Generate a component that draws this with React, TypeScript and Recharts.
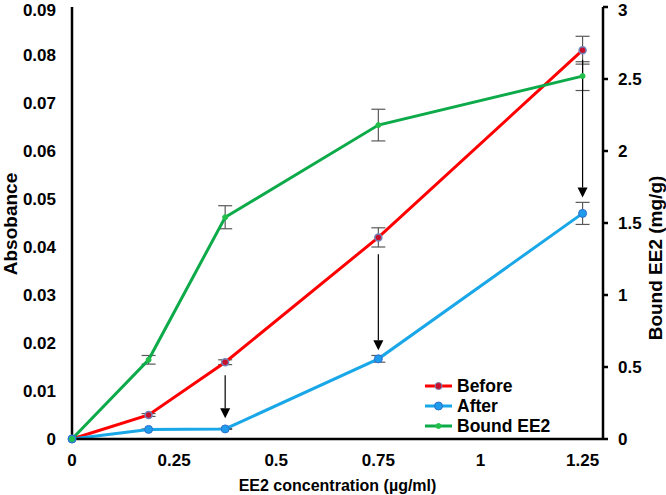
import * as React from "react";
import {
  ComposedChart,
  Line,
  XAxis,
  YAxis,
  ErrorBar,
  ReferenceLine,
} from "recharts";

// EE2 concentration (µg/ml)
const concentrations = [0, 0.1875, 0.375, 0.75, 1.25];
// absorbance before / after binding
const beforeValues = [0, 0.005, 0.016, 0.042, 0.081];
const beforeErrors = [0, 0.0003, 0.0005, 0.002, 0.0029];
const afterValues = [0, 0.002, 0.0021, 0.0167, 0.047];
const afterErrors = [0, 0.0001, 0.0001, 0.0007, 0.0023];
// bound EE2 (mg/g), right axis
const boundValues = [0, 0.55, 1.54, 2.18, 2.52];
const boundErrors = [0, 0.03, 0.08, 0.11, 0.1];

const xTicks = [0, 0.25, 0.5, 0.75, 1, 1.25];
const leftTicks = [0, 0.01, 0.02, 0.03, 0.04, 0.05, 0.06, 0.07, 0.08, 0.09];
const rightTicks = [0, 0.5, 1, 1.5, 2, 2.5, 3];

// arrows from "before" down to "after"
const arrowX = [0.375, 0.75, 1.25];
const arrowFrom = [0.0133, 0.0385, 0.079];
const arrowTo = [0.0043, 0.0185, 0.0503];

const data = concentrations.map((x, i) => ({
  x,
  before: beforeValues[i],
  beforeErr: beforeErrors[i],
  after: afterValues[i],
  afterErr: afterErrors[i],
  bound: boundValues[i],
  boundErr: boundErrors[i],
}));

const FONT = "'Liberation Sans', Arial, sans-serif";
const tickStyle = { fontSize: 17, fontWeight: 700, fill: "#000", fontFamily: FONT };
const xTitleStyle = { ...tickStyle, fontSize: 16 };
const yTitleStyle = { ...tickStyle, fontSize: 19 };

const series = [
  { name: "Before", color: "#FF0000", dotFill: "#C8102E", dotStroke: "#6F86B8", r: 3.5 },
  { name: "After", color: "#1AA7E8", dotFill: "#1E9BEA", dotStroke: "#2F6FD0", r: 4 },
  { name: "Bound EE2", color: "#0DAA4A", dotFill: "#22C04A", dotStroke: "#22C04A", r: 2.5 },
];

function ArrowShape(props: any) {
  const { x1, y1, x2, y2 } = props;
  const head = 10;
  return (
    <g>
      <line x1={x1} y1={y1} x2={x2} y2={y2 - head} stroke="#000" strokeWidth={1.2} />
      <polygon
        points={`${x2 - 5},${y2 - head} ${x2 + 5},${y2 - head} ${x2},${y2}`}
        fill="#000"
      />
    </g>
  );
}

function ChartLegend() {
  return (
    <div
      style={{
        position: "absolute",
        left: 424,
        top: 376,
        fontFamily: FONT,
        fontWeight: 700,
        fontSize: 17.5,
      }}
    >
      {series.map((s) => (
        <div key={s.name} style={{ display: "flex", alignItems: "center", height: 20 }}>
          <svg width={30} height={12} style={{ marginRight: 3 }}>
            <line x1={1} y1={6} x2={28} y2={6} stroke={s.color} strokeWidth={3} />
            <circle cx={14.5} cy={6} r={s.r} fill={s.dotFill} stroke={s.dotStroke} strokeWidth={1} />
          </svg>
          <span style={{ lineHeight: "20px" }}>{s.name}</span>
        </div>
      ))}
    </div>
  );
}

export default function App() {
  return (
    <div style={{ position: "absolute", left: 0, top: 0, width: 666, height: 495, background: "#fff" }}>
      <ComposedChart
        width={666}
        height={495}
        data={data}
        margin={{ top: 7, right: 0, bottom: 0, left: 0 }}
      >
        <XAxis
          dataKey="x"
          type="number"
          domain={[0, 1.3]}
          ticks={xTicks}
          tick={tickStyle}
          tickLine={false}
          tickSize={0}
          tickMargin={15}
          axisLine={{ stroke: "#000", strokeWidth: 2.5 }}
          height={56}
          label={{
            value: "EE2 concentration (µg/ml)",
            position: "insideBottom",
            offset: 4,
            style: { ...xTitleStyle, textAnchor: "middle" },
          }}
        />
        <YAxis
          yAxisId="left"
          domain={[0, 0.09]}
          ticks={leftTicks}
          tick={tickStyle}
          tickLine={false}
          tickSize={0}
          tickMargin={16}
          axisLine={{ stroke: "#000", strokeWidth: 2.5 }}
          width={72}
          label={{
            content: () => (
              <text
                x={10}
                y={224}
                transform="rotate(-90 10 224)"
                textAnchor="middle"
                dominantBaseline="central"
                style={yTitleStyle}
              >
                Absobance
              </text>
            ),
          }}
        />
        <YAxis
          yAxisId="right"
          orientation="right"
          domain={[0, 3]}
          ticks={rightTicks}
          tick={tickStyle}
          tickLine={{ stroke: "#000", strokeWidth: 2.5 }}
          tickSize={5}
          tickMargin={10}
          axisLine={{ stroke: "#000", strokeWidth: 2.5 }}
          width={63}
          label={{
            content: () => (
              <text
                x={655}
                y={258}
                transform="rotate(-90 655 258)"
                textAnchor="middle"
                dominantBaseline="central"
                style={yTitleStyle}
              >
                Bound EE2 (mg/g)
              </text>
            ),
          }}
        />
        <Line
          yAxisId="left"
          dataKey="before"
          name="Before"
          stroke={series[0].color}
          strokeWidth={3}
          dot={{ r: series[0].r, fill: series[0].dotFill, stroke: series[0].dotStroke, strokeWidth: 1.5 }}
          isAnimationActive={false}
        >
          <ErrorBar dataKey="beforeErr" direction="y" width={7} stroke="#595959" strokeWidth={1.2} />
        </Line>
        <Line
          yAxisId="left"
          dataKey="after"
          name="After"
          stroke={series[1].color}
          strokeWidth={3}
          dot={{ r: series[1].r, fill: series[1].dotFill, stroke: series[1].dotStroke, strokeWidth: 1 }}
          isAnimationActive={false}
        >
          <ErrorBar dataKey="afterErr" direction="y" width={7} stroke="#595959" strokeWidth={1.2} />
        </Line>
        <Line
          yAxisId="right"
          dataKey="bound"
          name="Bound EE2"
          stroke={series[2].color}
          strokeWidth={3}
          dot={{ r: series[2].r, fill: series[2].dotFill, stroke: series[2].dotStroke, strokeWidth: 1 }}
          isAnimationActive={false}
        >
          <ErrorBar dataKey="boundErr" direction="y" width={7} stroke="#595959" strokeWidth={1.2} />
        </Line>
        {arrowX.map((x, i) => (
          <ReferenceLine
            key={`arrow-${i}`}
            yAxisId="left"
            segment={[
              { x, y: arrowFrom[i] },
              { x, y: arrowTo[i] },
            ]}
            shape={ArrowShape}
            ifOverflow="visible"
          />
        ))}
      </ComposedChart>
      <ChartLegend />
    </div>
  );
}
